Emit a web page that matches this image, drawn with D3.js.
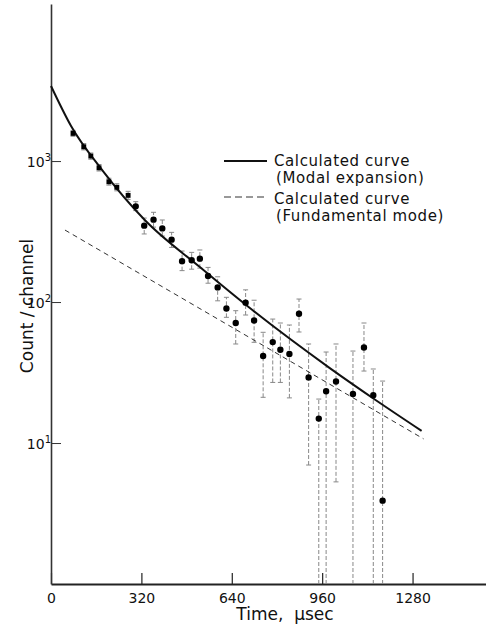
<!DOCTYPE html>
<html>
<head>
<meta charset="utf-8">
<script src="https://cdn.jsdelivr.net/npm/d3@7"></script>
<style>
  body { margin: 0; background: #fff; }
  text { font-family: "DejaVu Sans", sans-serif; fill: #111; }
</style>
</head>
<body>
<svg id="chart"></svg>
<script>
// measured counts (time in microseconds)
const times  = [78, 116, 141, 170, 205, 233, 273, 300, 330, 363, 394, 427, 464, 498, 527, 556, 590, 621,
                654, 689, 719, 751, 785, 812, 844, 878, 912, 948, 974, 1009, 1069, 1108, 1141, 1174];
const counts = [1571, 1263, 1085, 896, 713, 651, 571, 477, 348, 384, 333, 277, 195, 198, 203, 153, 127, 90,
                71, 99, 74, 41.4, 52, 45.9, 42.8, 82.6, 29.2, 14.9, 23.3, 27.3, 22.3, 47.6, 21.8, 3.9];
const errHi  = [1650, 1330, 1140, 945, 755, 690, 610, 515, 394, 433, 382, 312, 230, 225, 234, 176, 151, 108,
                86.8, 122, 103, 61, 75.7, 71, 68.7, 105, 50.4, 20.5, 44.2, 50.4, 44.9, 71, 33.5, 27.5];
const errLo  = [1500, 1200, 1030, 850, 675, 615, 535, 445, 304, 340, 294, 244, 167, 171, 174, 136, 102, 77.9,
                50.4, 80.9, 51.8, 21.1, 26.9, 26.9, 20.9, 61.3, 6.98, 1, 1, 5.3, 1, 32.4, 1, 1];

// calculated curve, modal expansion
const modalT = [0, 71, 184, 332, 527, 704, 987, 1149, 1312];
const modalV = [3404, 1771, 849, 382, 177, 90.6, 34.0, 20.2, 12.2];

// calculated curve, fundamental mode
const fundT = [49.5, 1319];
const fundV = [324, 10.7];

const xTicks = [0, 320, 640, 960, 1280];
const yTicks = [10, 100, 1000];
const yExp = ["1", "2", "3"];

const width = 486, height = 629;

const svg = d3.select('#chart')
    .attr("width", width)
    .attr("height", height);

const x = d3.scaleLinear().domain([0, 1540]).range([51, 486]);
const y = d3.scaleLog().domain([1, 13000]).range([584, 4]);

// X axis, ticks pointing up
const xAxis = svg.append("g")
    .attr("transform", "translate(0," + y(1) + ")")
    .call(d3.axisBottom(x).tickValues(xTicks).tickSize(-11).tickSizeOuter(0).tickFormat(d3.format("d")));
xAxis.select(".domain").attr("stroke", "#222").attr("stroke-width", 1.8);
xAxis.selectAll(".tick line").attr("stroke", "#222").attr("stroke-width", 1.2);
xAxis.selectAll(".tick text")
    .attr("y", 6)
    .attr("dy", "0.9em")
    .style("font-size", "14px")
    .style("font-family", "DejaVu Sans, sans-serif")
    .attr("fill", "#111");

// Y axis, ticks pointing right
const yAxis = svg.append("g")
    .attr("transform", "translate(" + x(0) + ",0)")
    .call(d3.axisLeft(y).tickValues(yTicks).tickSize(-10).tickSizeOuter(0).tickFormat(""));
yAxis.select(".domain").attr("stroke", "#333").attr("stroke-width", 1.6);
yAxis.selectAll(".tick line").attr("stroke", "#333").attr("stroke-width", 1);

const ylab = yAxis.selectAll(".tick").append("text")
    .attr("x", 0)
    .attr("y", 5)
    .attr("text-anchor", "end")
    .style("font-size", "14px")
    .attr("fill", "#111");
ylab.append("tspan").text("10");
ylab.append("tspan")
    .attr("dy", "-0.55em")
    .style("font-size", "10px")
    .text(function(d, i) { return yExp[i]; });

// Axes labels
svg.append("text")
    .attr("text-anchor", "middle")
    .attr("x", 285)
    .attr("y", 620)
    .style("font-size", "17px")
    .attr("xml:space", "preserve")
    .text("Time,  \u03bcsec");

svg.append("text")
    .attr("text-anchor", "middle")
    .attr("transform", "translate(33,306) rotate(-90)")
    .style("font-size", "17px")
    .text("Count / channel");

// error bars
const bars = svg.append("g");
times.forEach(function(t, i) {
    bars.append("line")
        .attr("x1", x(t)).attr("x2", x(t))
        .attr("y1", y(errLo[i])).attr("y2", y(errHi[i]))
        .attr("stroke", "#888")
        .attr("stroke-width", 1)
        .attr("stroke-dasharray", "4,2");
    bars.append("line")
        .attr("x1", x(t) - 2.5).attr("x2", x(t) + 2.5)
        .attr("y1", y(errHi[i])).attr("y2", y(errHi[i]))
        .attr("stroke", "#888");
    if (errLo[i] > 1) {
        bars.append("line")
            .attr("x1", x(t) - 2.5).attr("x2", x(t) + 2.5)
            .attr("y1", y(errLo[i])).attr("y2", y(errLo[i]))
            .attr("stroke", "#888");
    }
});

// fundamental mode (dashed)
svg.append("path")
    .datum(d3.zip(fundT, fundV))
    .attr("fill", "none")
    .attr("stroke", "#333")
    .attr("stroke-width", 1)
    .attr("stroke-dasharray", "5,4")
    .attr("d", d3.line()
        .x(function(d) { return x(d[0]); })
        .y(function(d) { return y(d[1]); }));

// modal expansion (solid)
svg.append("path")
    .datum(d3.zip(modalT, modalV))
    .attr("fill", "none")
    .attr("stroke", "#111")
    .attr("stroke-width", 2)
    .attr("d", d3.line()
        .curve(d3.curveMonotoneX)
        .x(function(d) { return x(d[0]); })
        .y(function(d) { return y(d[1]); }));

// data points: first ones print as squares
svg.selectAll("myPoints")
    .data(d3.zip(times, counts))
    .enter()
    .append("path")
    .attr("fill", "#000")
    .attr("transform", function(d) { return "translate(" + x(d[0]) + "," + y(d[1]) + ")"; })
    .attr("d", function(d, i) {
        return i < 7 ? d3.symbol().type(d3.symbolSquare).size(24)() : d3.symbol().type(d3.symbolCircle).size(32)();
    });

// legend
const lg = svg.append("g").style("letter-spacing", "0.6px");
lg.append("line").attr("x1", 224).attr("x2", 267).attr("y1", 161).attr("y2", 161)
    .attr("stroke", "#111").attr("stroke-width", 2);
lg.append("line").attr("x1", 224).attr("x2", 267).attr("y1", 197).attr("y2", 197)
    .attr("stroke", "#333").attr("stroke-width", 1.2).attr("stroke-dasharray", "7,4");
lg.append("text").attr("x", 274).attr("y", 166).style("font-size", "15px").text("Calculated curve");
lg.append("text").attr("x", 276).attr("y", 183).style("font-size", "15px").text("(Modal expansion)");
lg.append("text").attr("x", 274).attr("y", 204).style("font-size", "15px").text("Calculated curve");
lg.append("text").attr("x", 276).attr("y", 221).style("font-size", "15px").text("(Fundamental mode)");
</script>
</body>
</html>
